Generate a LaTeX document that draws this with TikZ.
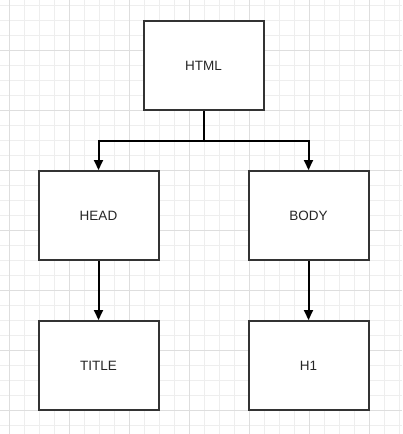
\documentclass[tikz,border=0pt]{standalone}
\usepackage{fontspec}
\setmainfont{Liberation Sans}
\usetikzlibrary{arrows.meta}
\definecolor{minorgrid}{HTML}{EEEEEE}
\definecolor{majorgrid}{HTML}{DEDEDE}
\definecolor{boxline}{HTML}{333333}
\tikzset{
  box/.style={draw=boxline, line width=2pt, fill=white, minimum width=120pt, minimum height=89pt, inner sep=0pt, font=\fontsize{13.5}{15}\selectfont, text=black!85},
  conn/.style={draw=black, line width=2pt},
  arr/.style={conn, -{Triangle[length=10pt,width=9pt]}}
}
\begin{document}
\begin{tikzpicture}[x=1pt,y=1pt]
\useasboundingbox (0,0) rectangle (402,-434);
\fill[white] (0,0) rectangle (402,-434);
\foreach \i in {0,...,26} {
  \pgfmathsetmacro{\xx}{9.5+15*\i}
  \draw[minorgrid, line width=1pt] (\xx,0) -- (\xx,-434);
}
\foreach \i in {0,...,28} {
  \pgfmathsetmacro{\yy}{-5.5-15*\i}
  \draw[minorgrid, line width=1pt] (0,\yy) -- (402,\yy);
}
\foreach \i in {0,...,6} {
  \pgfmathsetmacro{\xx}{9.5+60*\i}
  \draw[majorgrid, line width=1pt] (\xx,0) -- (\xx,-434);
}
\foreach \i in {0,...,6} {
  \pgfmathsetmacro{\yy}{-50.5-60*\i}
  \draw[majorgrid, line width=1pt] (0,\yy) -- (402,\yy);
}
\node[box] (html) at (203.5,-65.5) {HTML};
\node[box] (head) at (98.5,-215.5) {HEAD};
\node[box] (body) at (308.5,-215.5) {BODY};
\node[box] (title) at (98.5,-365.5) {TITLE};
\node[box] (h1) at (308.5,-365.5) {H1};
\coordinate (j) at (203.5,-140.5);
\draw[conn] (html.south) -- (j);
\draw[arr] (j) -| (head.north);
\draw[arr] (j) -| (body.north);
\draw[arr] (head) -- (title);
\draw[arr] (body) -- (h1);
\end{tikzpicture}
\end{document}
